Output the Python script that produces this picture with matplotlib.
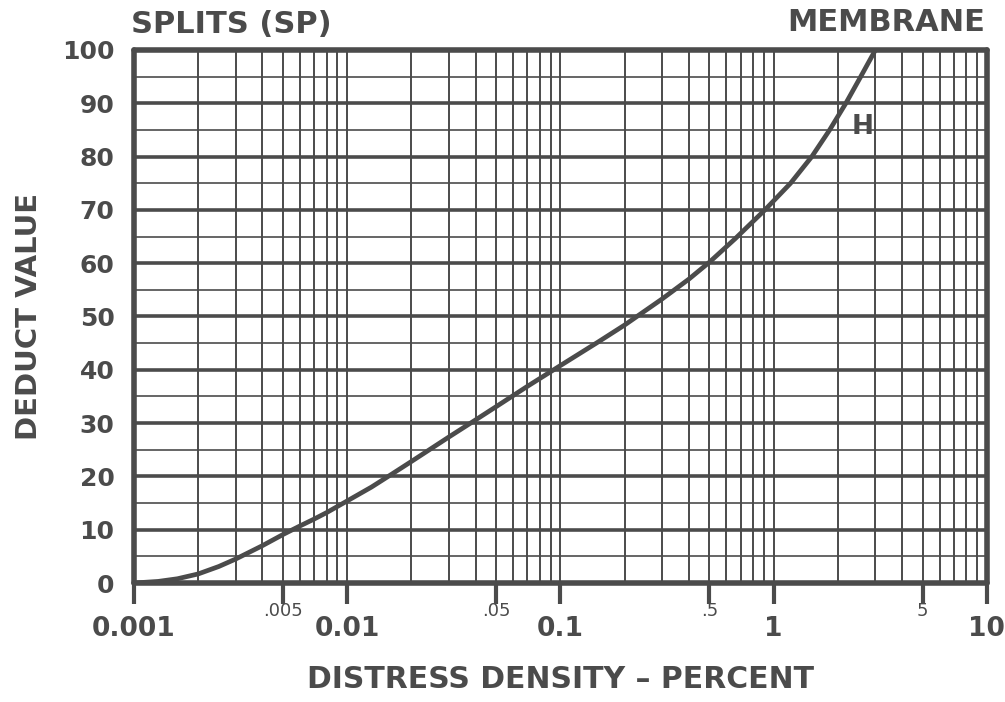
import matplotlib
matplotlib.use("Agg")
import matplotlib.pyplot as plt
import numpy as np

# curve H
density = [0.001, 0.0013, 0.0016, 0.002, 0.0025, 0.003, 0.004, 0.005, 0.006, 0.007,
           0.008, 0.01, 0.013, 0.016, 0.02, 0.03, 0.04, 0.05, 0.07, 0.1,
           0.15, 0.2, 0.3, 0.4, 0.5, 0.66, 0.91, 1.2, 1.51, 1.83,
           2.18, 2.56, 3.0]
deduct = [0, 0.3, 0.8, 1.7, 3.1, 4.5, 7.0, 9.1, 10.7, 12.0,
          13.2, 15.4, 18.0, 20.3, 22.8, 27.4, 30.6, 33.1, 36.9, 40.8,
          45.2, 48.4, 53.3, 57.0, 60.2, 64.6, 70, 75, 80, 85,
          90, 95, 100]

major_x = [0.001, 0.01, 0.1, 1, 10]
major_x_labels = ["0.001", "0.01", "0.1", "1", "10"]
half_x = [0.005, 0.05, 0.5, 5]
half_x_labels = [".005", ".05", ".5", "5"]
y_major = list(range(0, 101, 10))
y_minor = list(range(5, 100, 10))

ink = "#4b4b4b"
plt.rcParams["font.family"] = "DejaVu Sans"

fig = plt.figure(figsize=(10.05, 7.02), dpi=100)
ax = fig.add_axes([0.1333, 0.1695, 0.8487, 0.7593])
ax.set_xscale("log")
ax.set_xlim(0.001, 10)
ax.set_ylim(0, 100)

# x ticks: decades and the 5s get tick marks, the rest only grid lines
ax.set_xticks(major_x + half_x)
ax.set_xticklabels(major_x_labels + [""] * len(half_x))
subs = [m * d for d in [0.001, 0.01, 0.1, 1] for m in [2, 3, 4, 6, 7, 8, 9]]
ax.set_xticks(subs, minor=True)
ax.tick_params(axis="x", which="major", length=15, width=3, color=ink,
               labelsize=19, labelcolor=ink, pad=9)
ax.tick_params(axis="x", which="minor", length=0)
for lab in ax.get_xticklabels():
    lab.set_fontweight("bold")

ax.set_yticks(y_major)
ax.set_yticks(y_minor, minor=True)
ax.tick_params(axis="y", which="both", length=0, labelsize=18, labelcolor=ink, pad=14)
for lab in ax.get_yticklabels():
    lab.set_fontweight("bold")

ax.grid(axis="x", which="both", color=ink, lw=1.4)
ax.grid(axis="y", which="major", color=ink, lw=2.6)
ax.grid(axis="y", which="minor", color=ink, lw=1.2)
ax.set_axisbelow(True)

for side in ["left", "right", "top", "bottom"]:
    ax.spines[side].set_color(ink)
    ax.spines[side].set_linewidth(4)
    ax.spines[side].set_capstyle("round")

ax.plot(density, deduct, color=ink, lw=3.4, solid_capstyle="round",
        solid_joinstyle="round", zorder=5)
ax.text(2.6, 85.5, "H", color=ink, fontsize=19, fontweight="bold",
        ha="center", va="center", zorder=6)

# small labels for the 5s
for xv, lab in zip(half_x, half_x_labels):
    ax.text(xv, -0.053, lab, transform=ax.get_xaxis_transform(), color=ink,
            fontsize=13, ha="center", va="center")

ax.set_ylabel("DEDUCT VALUE", fontsize=21, fontweight="bold", color=ink, labelpad=14)
ax.set_xlabel("DISTRESS DENSITY – PERCENT", fontsize=21.5, fontweight="bold",
              color=ink, labelpad=16)

fig.text(0.13, 0.965, "SPLITS (SP)", fontsize=22, fontweight="bold", color=ink,
         ha="left", va="center")
fig.text(0.98, 0.968, "MEMBRANE", fontsize=22, fontweight="bold", color=ink,
         ha="right", va="center")

fig.savefig("out.png", dpi=100, facecolor="white")
